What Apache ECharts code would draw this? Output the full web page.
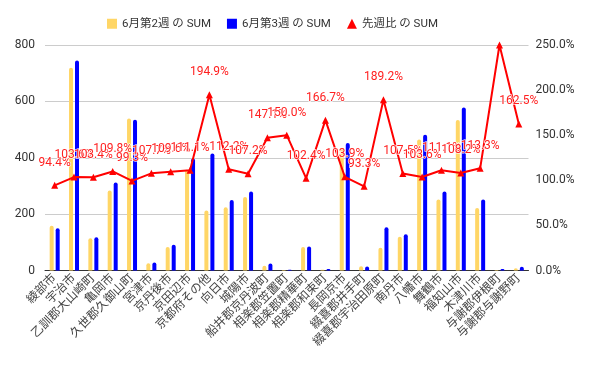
<!DOCTYPE html>
<html>
<head>
<meta charset="utf-8">
<script src="https://cdn.jsdelivr.net/npm/echarts@6/dist/echarts.min.js"></script>
<style>
  html, body { margin: 0; padding: 0; background: #fff; }
  #chart { width: 592px; height: 365px; }
</style>
</head>
<body>
<div id="chart"></div>
<script>
const categories = ['綾部市','宇治市','乙訓郡大山崎町','亀岡市','久世郡久御山町','宮津市','京丹後市','京田辺市','京都府その他','向日市','城陽市','船井郡京丹波町','相楽郡笠置町','相楽郡精華町','相楽郡和束町','長岡京市','綴喜郡井手町','綴喜郡宇治田原町','南丹市','八幡市','舞鶴市','福知山市','木津川市','与謝郡伊根町','与謝郡与謝野町'];
const week2 = [159, 719, 114, 284, 539, 26, 83, 357, 213, 224, 261, 17, 2, 83, 3, 435, 15, 81, 120, 465, 252, 534, 222, 2, 8];
const week3 = [150, 745, 118, 312, 535, 28, 91, 397, 415, 250, 280, 25, 3, 85, 5, 452, 14, 153, 129, 482, 280, 578, 252, 5, 13];
const ratio = [94.4, 103.6, 103.4, 109.8, 99.3, 107.7, 109.6, 111.1, 194.9, 112.2, 107.2, 147.1, 150.0, 102.4, 166.7, 103.9, 93.3, 189.2, 107.5, 103.6, 111.1, 108.2, 113.3, 250.0, 162.5];
const leftTicks = { min: 0, max: 800, interval: 200 };
const rightTicks = { min: 0, max: 250, interval: 50 };
const seriesNames = ['6月第2週 の SUM', '6月第3週 の SUM', '先週比 の SUM'];

const font = 'Roboto, "Noto Sans CJK JP", sans-serif';
const chart = echarts.init(document.getElementById('chart'), null, { renderer: 'canvas' });

const ratioData = ratio.map((v, i) => {
  if (v >= 250) return { value: v, label: { show: false } };
  return v;
});

chart.setOption({
  animation: false,
  textStyle: { fontFamily: font },
  legend: {
    top: 13,
    left: 102,
    itemWidth: 10,
    itemHeight: 10,
    itemGap: 16,
    textStyle: { fontSize: 11.5, color: '#333', fontFamily: font },
    data: [
      { name: seriesNames[0], icon: 'rect' },
      { name: seriesNames[1], icon: 'rect' },
      { name: seriesNames[2], icon: 'triangle' }
    ]
  },
  grid: { left: 45, right: 63.5, top: 45, bottom: 94.5, containLabel: false },
  xAxis: {
    type: 'category',
    data: categories,
    axisLine: { lineStyle: { color: '#333', width: 1 } },
    axisTick: { show: false },
    axisLabel: { rotate: 45, interval: 0, fontSize: 12, color: '#444', margin: 6, fontFamily: font }
  },
  yAxis: [
    {
      type: 'value',
      min: leftTicks.min, max: leftTicks.max, interval: leftTicks.interval,
      axisLine: { show: false },
      axisTick: { show: false },
      axisLabel: { fontSize: 12, color: '#333', margin: 10, fontFamily: font },
      splitLine: { lineStyle: { color: '#ccc', width: 1 } }
    },
    {
      type: 'value',
      min: rightTicks.min, max: rightTicks.max, interval: rightTicks.interval,
      axisLine: { show: false },
      axisTick: { show: false },
      axisLabel: { fontSize: 12, color: '#333', margin: 7, fontFamily: font,
        formatter: v => v.toFixed(1) + '%' },
      splitLine: { show: false }
    }
  ],
  series: [
    {
      name: seriesNames[0], type: 'bar', data: week2,
      barWidth: 4, barGap: '50%',
      itemStyle: { color: '#ffd666', borderRadius: [2, 2, 0, 0] }
    },
    {
      name: seriesNames[1], type: 'bar', data: week3,
      barWidth: 4, barGap: '50%',
      itemStyle: { color: '#0000ff', borderRadius: [2, 2, 0, 0] }
    },
    {
      name: seriesNames[2], type: 'line', yAxisIndex: 1, data: ratioData,
      z: 5,
      symbol: 'triangle', symbolSize: 7,
      lineStyle: { color: '#ff0000', width: 2 },
      itemStyle: { color: '#ff0000' },
      label: {
        show: true, position: 'top', distance: 13,
        fontSize: 12, color: '#ff2020', fontFamily: font,
        textBorderColor: 'rgba(255,255,255,0.85)', textBorderWidth: 1.5,
        formatter: p => Number(p.value).toFixed(1) + '%'
      }
    }
  ]
});
</script>
</body>
</html>
